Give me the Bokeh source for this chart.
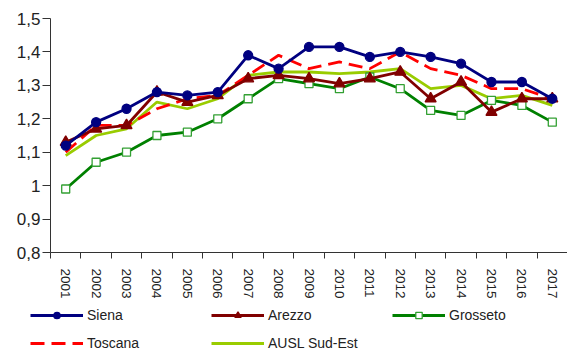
from bokeh.plotting import figure
from bokeh.models import Range1d, FixedTicker, CustomJSTickFormatter, Legend, LegendItem
from bokeh.embed import file_html
from bokeh.resources import INLINE

years = list(range(2001, 2018))
siena = [1.12, 1.19, 1.23, 1.28, 1.27, 1.28, 1.39, 1.35, 1.415, 1.415, 1.385, 1.40, 1.385, 1.365, 1.31, 1.31, 1.26]
arezzo = [1.13, 1.17, 1.18, 1.28, 1.25, 1.27, 1.32, 1.33, 1.32, 1.305, 1.32, 1.34, 1.26, 1.31, 1.22, 1.26, 1.26]
grosseto = [0.99, 1.07, 1.10, 1.15, 1.16, 1.20, 1.26, 1.32, 1.305, 1.29, 1.325, 1.29, 1.225, 1.21, 1.255, 1.24, 1.19]
toscana = [1.10, 1.18, 1.18, 1.23, 1.26, 1.27, 1.33, 1.39, 1.35, 1.37, 1.35, 1.40, 1.35, 1.33, 1.29, 1.29, 1.26]
ausl = [1.09, 1.15, 1.17, 1.25, 1.23, 1.26, 1.33, 1.34, 1.34, 1.335, 1.34, 1.35, 1.29, 1.30, 1.26, 1.27, 1.24]
y_ticks = [0.8, 0.9, 1.0, 1.1, 1.2, 1.3, 1.4, 1.5]

FONT = "Liberation Sans"
LW = 2.8
STYLES = {
    "Siena": dict(color="#000080", dash="solid", marker="circle", size=9, fill="#000080", mline="#000080"),
    "Arezzo": dict(color="#800000", dash="solid", marker="triangle", size=11, fill="#800000", mline="#800000"),
    "Grosseto": dict(color="#008000", dash="solid", marker="square", size=8, fill="white", mline="#33A033"),
    "Toscana": dict(color="#FF0000", dash="14 7", marker=None),
    "AUSL Sud-Est": dict(color="#99CC00", dash="solid", marker=None),
}
series = {"Siena": siena, "Arezzo": arezzo, "Grosseto": grosseto, "Toscana": toscana, "AUSL Sud-Est": ausl}
draw_order = ["AUSL Sud-Est", "Toscana", "Grosseto", "Arezzo", "Siena"]
# legend is filled column by column (3 columns, 2 rows)
legend_order = ["Siena", "Toscana", "Arezzo", "AUSL Sud-Est", "Grosseto"]

p = figure(width=567, height=301, output_backend="svg", toolbar_location=None,
           x_range=Range1d(2000.5, 2017.5), y_range=Range1d(0.8, 1.5),
           min_border_left=50, min_border_right=0, min_border_top=18, min_border_bottom=45)
p.outline_line_color = None
p.xgrid.visible = False
p.ygrid.visible = False


def draw(fig, name, xs, ys):
    s = STYLES[name]
    rs = [fig.line(xs, ys, line_color=s["color"], line_width=LW, line_dash=s["dash"])]
    if s["marker"]:
        rs.append(fig.scatter(xs, ys, marker=s["marker"], size=s["size"], line_color=s["mline"],
                              fill_color=s["fill"], line_width=1.3))
    return rs


for name in draw_order:
    draw(p, name, years, series[name])

p.xaxis.ticker = FixedTicker(ticks=years, minor_ticks=[y - 0.5 for y in years] + [2017.5])
p.xaxis.major_tick_out = 0
p.xaxis.major_tick_in = 0
p.xaxis.minor_tick_out = 6
p.xaxis.minor_tick_in = 0
p.xaxis.major_label_orientation = "vertical"
p.xaxis.major_label_text_font = FONT
p.xaxis.major_label_text_font_size = "13.5px"
p.xaxis.major_label_text_color = "#222222"
p.xaxis.major_label_standoff = 10

p.yaxis.ticker = FixedTicker(ticks=y_ticks, minor_ticks=[])
p.yaxis.formatter = CustomJSTickFormatter(code="""
const s = tick.toFixed(1);
return s.endsWith('.0') ? s.slice(0, -2) : s.replace('.', ',');
""")
p.yaxis.major_tick_out = 8
p.yaxis.major_tick_in = 0
p.yaxis.minor_tick_out = 0
p.yaxis.major_label_text_font = FONT
p.yaxis.major_label_text_font_size = "17px"
p.yaxis.major_label_text_color = "#222222"
p.yaxis.major_label_text_align = "right"
p.yaxis.major_label_standoff = 2

for ax in (p.xaxis, p.yaxis):
    ax.axis_line_color = "#333333"
    ax.major_tick_line_color = "#333333"
    ax.minor_tick_line_color = "#333333"

# legend panel (separate root so its frame is not aligned with the chart's frame)
q = figure(width=567, height=50, output_backend="svg", toolbar_location=None,
           x_range=Range1d(0, 1), y_range=Range1d(0, 1),
           x_axis_location=None, y_axis_location=None,
           min_border_left=0, min_border_right=0, min_border_top=0, min_border_bottom=0)
q.grid.visible = False
q.outline_line_color = None
items = []
for name in legend_order:
    items.append(LegendItem(label=name, renderers=draw(q, name, [-5, -4], [-5, -4])))
legend = Legend(items=items, ncols=3, location=(30, 0), glyph_width=53, glyph_height=16,
                label_height=16, label_width=112, label_standoff=4, spacing=12, padding=0, margin=0,
                border_line_color=None, background_fill_alpha=0,
                label_text_font=FONT, label_text_font_size="14px", label_text_color="#222222")
q.add_layout(legend, "center")

open("out.html", "w").write(file_html([p, q], INLINE))
